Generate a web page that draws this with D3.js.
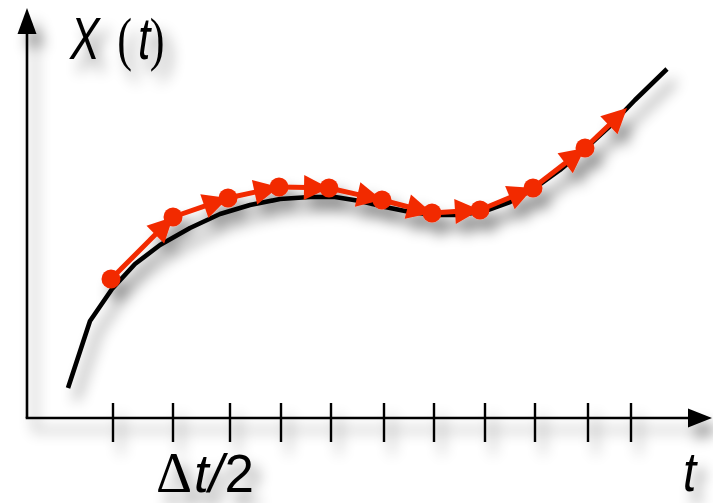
<!DOCTYPE html>
<html>
<head>
<meta charset="utf-8">
<script src="https://cdn.jsdelivr.net/npm/d3@7"></script>
<style>
  html, body { margin: 0; padding: 0; background: #fff; }
  svg { display: block; }
</style>
</head>
<body>
<svg id="chart" width="713" height="503"></svg>
<script>
// Exact solution X(t): sampled times and values
const curveT = [0.82, 1.26, 1.70, 2.16, 2.66, 3.26, 3.86, 4.46, 5.06, 5.66, 6.16, 6.66, 7.16, 7.66, 8.16, 8.66, 9.16, 9.66, 10.16, 10.66, 11.16, 11.66, 12.16, 12.80];
const curveX = [0.60, 1.94, 2.58, 3.08, 3.46, 3.80, 4.08, 4.26, 4.38, 4.42, 4.42, 4.34, 4.22, 4.12, 4.06, 4.06, 4.14, 4.32, 4.60, 4.96, 5.38, 5.84, 6.36, 6.98];

// Numerical steps: the approximation at each step time
const stepT = [1.68, 2.92, 4.02, 5.04, 6.04, 7.10, 8.10, 9.06, 10.12, 11.16, 12.00];
const stepX = [2.78, 4.02, 4.40, 4.62, 4.60, 4.36, 4.10, 4.16, 4.60, 5.40, 6.20];

// Tick marks along the time axis (half-step spacing)
const tickT = [1.72, 2.92, 4.06, 5.08, 6.08, 7.14, 8.14, 9.16, 10.16, 11.22, 12.08];

const yLabel = ["X", "(", "t", ")"];
const xLabel = "t";
const stepLabel = ["Δ", "t", "/", "2"];

const svg = d3.select("#chart");

const x = d3.scaleLinear().domain([0, 13.7]).range([27, 712]);
const y = d3.scaleLinear().domain([0, 8.2]).range([418, 8]);

// soft drop shadow under everything
const defs = svg.append("defs");
const f = defs.append("filter").attr("id", "shadow")
  .attr("x", "-20%").attr("y", "-20%").attr("width", "140%").attr("height", "140%");
f.append("feDropShadow")
  .attr("dx", 8).attr("dy", 12).attr("stdDeviation", 7)
  .attr("flood-color", "#000").attr("flood-opacity", 0.45);

const g = svg.append("g").attr("filter", "url(#shadow)");

// axes
const x0 = x(0), y0 = y(0);
const xEnd = x.range()[1], yEnd = y.range()[1];
const headLen = 24, headHalf = 9.5;

g.append("line")
  .attr("x1", x0).attr("y1", y0).attr("x2", x0).attr("y2", yEnd + headLen)
  .attr("stroke", "#000").attr("stroke-width", 2.6);
g.append("path")
  .attr("d", `M${x0},${yEnd} L${x0 - headHalf},${yEnd + headLen + 2} L${x0 + headHalf},${yEnd + headLen + 2} Z`)
  .attr("fill", "#000");

g.append("line")
  .attr("x1", x0 - 1.3).attr("y1", y0).attr("x2", xEnd - headLen).attr("y2", y0)
  .attr("stroke", "#000").attr("stroke-width", 2.6);
g.append("path")
  .attr("d", `M${xEnd},${y0} L${xEnd - headLen},${y0 - headHalf} L${xEnd - headLen},${y0 + headHalf} Z`)
  .attr("fill", "#000");

g.selectAll("line.tick").data(tickT).join("line")
  .attr("class", "tick")
  .attr("x1", d => x(d)).attr("x2", d => x(d))
  .attr("y1", y0 - 15).attr("y2", y0 + 24)
  .attr("stroke", "#000").attr("stroke-width", 2.4);

// exact curve
const curvePts = curveT.map((t, i) => [x(t), y(curveX[i])]);
g.append("path")
  .attr("d", d3.line().curve(d3.curveLinear)(curvePts))
  .attr("fill", "none").attr("stroke", "#000")
  .attr("stroke-width", 4.6).attr("stroke-linejoin", "round");

// numerical steps: segments ending in arrowheads
const red = "#f22a00";
const stepPts = stepT.map((t, i) => [x(t), y(stepX[i])]);
const arrowLen = 25, arrowHalf = 12.5;
const segs = d3.pairs(stepPts);

function trimmed(d) {
  const dx = d[1][0] - d[0][0], dy = d[1][1] - d[0][1], L = Math.hypot(dx, dy);
  return [d[1][0] - dx / L * (arrowLen - 4), d[1][1] - dy / L * (arrowLen - 4)];
}

g.selectAll("line.step").data(segs).join("line")
  .attr("class", "step")
  .attr("x1", d => d[0][0]).attr("y1", d => d[0][1])
  .attr("x2", d => trimmed(d)[0]).attr("y2", d => trimmed(d)[1])
  .attr("stroke", red).attr("stroke-width", 5);

g.selectAll("path.head").data(segs).join("path")
  .attr("class", "head")
  .attr("d", `M0,0 L${-arrowLen},${-arrowHalf} L${-arrowLen},${arrowHalf} Z`)
  .attr("transform", d => {
    const a = Math.atan2(d[1][1] - d[0][1], d[1][0] - d[0][0]) * 180 / Math.PI;
    return `translate(${d[1][0]},${d[1][1]}) rotate(${a})`;
  })
  .attr("fill", red);

g.selectAll("circle.step").data(stepPts.slice(0, -1)).join("circle")
  .attr("class", "step")
  .attr("cx", d => d[0]).attr("cy", d => d[1]).attr("r", 9.5)
  .attr("fill", red);

// labels
const sans = "'Liberation Sans', Arial, sans-serif";
const serif = "'Liberation Serif', 'Times New Roman', serif";

// X (t) — narrow italic letters, upright parentheses
const yl = g.append("text")
  .attr("transform", "translate(70,59) scale(0.74,1)")
  .attr("font-size", 60).attr("fill", "#000");
yl.append("tspan").attr("font-family", sans).attr("font-style", "italic").text(yLabel[0]);
yl.append("tspan").attr("dx", 24).attr("font-family", serif).text(yLabel[1]);
yl.append("tspan").attr("dx", 8).attr("font-family", sans).attr("font-style", "italic").text(yLabel[2]);
yl.append("tspan").attr("dx", -1).attr("font-family", serif).text(yLabel[3]);

// Δt/2 under the ticks, one text run
const sl = g.append("text").attr("x", 156).attr("y", 492)
  .attr("font-size", 53).attr("fill", "#000");
sl.append("tspan").attr("font-family", serif).attr("font-size", 56).text(stepLabel[0]);
sl.append("tspan").attr("dx", 2).attr("font-family", sans).attr("font-style", "italic").text(stepLabel[1]);
sl.append("tspan").attr("dx", 0).attr("font-family", sans).attr("font-style", "italic").text(stepLabel[2]);
sl.append("tspan").attr("dx", 1).attr("font-family", sans).text(stepLabel[3]);

g.append("text")
  .attr("transform", "translate(683,491) scale(0.85,1)")
  .attr("font-family", sans).attr("font-style", "italic").attr("font-size", 56)
  .attr("fill", "#000").text(xLabel);
</script>
</body>
</html>
